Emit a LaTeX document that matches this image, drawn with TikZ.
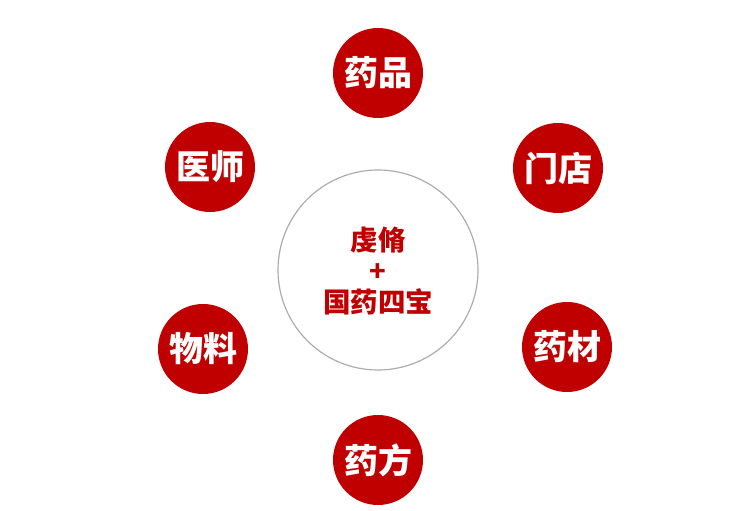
\documentclass[tikz,border=0pt]{standalone}
\usepackage{fontspec}
\newfontfamily\cjk{Noto Sans CJK SC}
\definecolor{darkred}{RGB}{192,0,0}
\tikzset{
  ball/.style={circle,fill=darkred,inner sep=0pt,minimum size=90pt,text=white,font=\cjk\bfseries\fontsize{34}{34}\selectfont},
  hub/.style={circle,draw=gray!65,line width=1.2pt,inner sep=0pt,minimum size=200pt}
}
\begin{document}
\begin{tikzpicture}[x=1pt,y=-1pt]
\useasboundingbox (0,0) rectangle (750,511);
\node[hub] (hub) at (378,270) {};
\node[text=darkred,align=center,font=\cjk\bfseries\fontsize{27.5}{31}\selectfont] (core) at (378,271) {虔脩\\+\\国药四宝};
\foreach \n/\x/\y/\t in {yp/378/73/药品,md/558/168/门店,yc/567/347/药材,yf/378/460/药方,wl/203/349/物料,ys/210/167/医师}
  \node[ball] (\n) at (\x,\y) {\t};
\end{tikzpicture}
\end{document}
